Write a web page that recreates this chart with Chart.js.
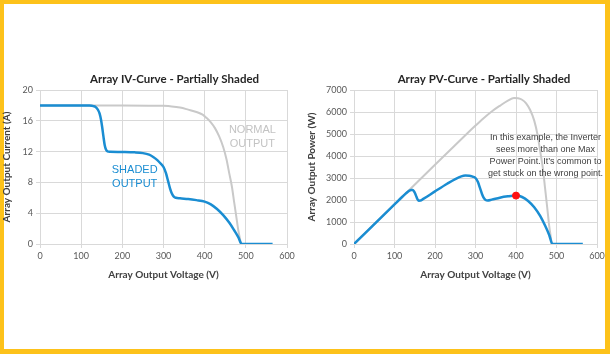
<!DOCTYPE html>
<html><head><meta charset="utf-8">
<script src="https://cdn.jsdelivr.net/npm/chart.js@4"></script>
<style>
html,body{margin:0;padding:0;}
body{width:610px;height:354px;background:#FDC21A;position:relative;overflow:hidden;}
#inner{position:absolute;left:4px;top:4px;width:601px;height:345px;background:#ffffff;}
canvas{position:absolute;top:0;}
</style></head><body>
<div id="inner"></div>
<canvas id="iv" width="305" height="354" style="left:0"></canvas>
<canvas id="pv" width="305" height="354" style="left:305px"></canvas>
<script>
// ---- data ----
const voltageNormal = [0, 100, 200, 280, 300, 320, 340, 360, 380, 395, 405, 415, 425, 435, 445, 453, 460, 466, 472, 477, 482, 486, 488];
const currentNormal = [18, 18, 18, 17.97, 17.94, 17.87, 17.72, 17.45, 17.15, 16.8, 16.35, 15.8, 15.05, 14.0, 12.6, 11.0, 9.1, 7.5, 5.3, 3.5, 1.7, 0.6, 0];
const powerNormal   = [0, 1800, 3600, 5032, 5382, 5718, 6025, 6282, 6517, 6636, 6622, 6557, 6396, 6090, 5607, 4983, 4186, 3495, 2502, 1670, 819, 292, 0];

const voltageShaded = [0, 100, 120, 130, 136, 141, 145, 148, 151, 154, 157, 160, 164, 170, 200, 230, 250, 265, 275, 285, 293, 300, 306, 311, 316, 320, 325, 330, 340, 360, 380, 400, 415, 430, 445, 460, 472, 482, 490, 565];
const currentShaded = [18, 18, 17.98, 17.9, 17.75, 17.4, 16.9, 16.2, 15.2, 14.0, 12.9, 12.3, 12.03, 11.98, 11.95, 11.9, 11.8, 11.6, 11.3, 10.9, 10.45, 10.0, 9.2, 8.2, 7.2, 6.6, 6.15, 6.0, 5.93, 5.85, 5.7, 5.5, 5.15, 4.55, 3.75, 2.75, 1.75, 0.85, 0, 0];
const powerShaded   = [0, 1800, 2158, 2327, 2414, 2453, 2451, 2398, 2295, 2156, 2025, 1968, 1973, 2037, 2390, 2737, 2950, 3074, 3108, 3107, 3062, 3000, 2815, 2550, 2275, 2112, 1999, 1980, 2016, 2106, 2166, 2200, 2137, 1957, 1669, 1265, 826, 410, 0, 0];

const stuckPointVoltage = [400];
const stuckPointPower = [2200];

const voltageTicks = [0, 100, 200, 300, 400, 500, 600];
const currentTicks = [0, 4, 8, 12, 16, 20];
const powerTicks = [0, 1000, 2000, 3000, 4000, 5000, 6000, 7000];

const ivTitle = 'Array IV-Curve - Partially Shaded';
const pvTitle = 'Array PV-Curve - Partially Shaded';
const xTitle = 'Array Output Voltage (V)';
const ivYTitle = 'Array Output Current (A)';
const pvYTitle = 'Array Output Power (W)';
const normalLabel = ['NORMAL', 'OUTPUT'];
const shadedLabel = ['SHADED', 'OUTPUT'];
const noteLines = ['In this example, the Inverter', 'sees more than one Max', 'Power Point. It\u2019s common to', 'get stuck on the wrong point.'];

// ---- styling ----
const FONT = 'Lato, "Open Sans", sans-serif';
const ARIAL = '"Liberation Sans", Arial, sans-serif';
const BLUE = '#1a8dd2';
const GRAY = '#c9c9c9';
const GRID = '#d9d9d9';

function pts(xs, ys) { return xs.map((x, i) => ({ x: x, y: ys[i] })); }

const overlayText = {
  id: 'overlayText',
  afterDatasetsDraw(chart, args, opts) {
    const ctx = chart.ctx;
    ctx.save();
    ctx.textAlign = 'center';
    ctx.textBaseline = 'middle';
    (opts.items || []).forEach(it => {
      ctx.font = it.font;
      ctx.fillStyle = it.color;
      const cx = chart.scales.x.getPixelForValue(it.x);
      it.lines.forEach((ln, i) => {
        const cy = chart.scales.y.getPixelForValue(it.y) + i * it.lineHeight;
        ctx.fillText(ln, cx, cy);
      });
    });
    if (opts.title) {
      ctx.font = opts.title.font;
      ctx.fillStyle = opts.title.color;
      ctx.fillText(opts.title.text, opts.title.cx, opts.title.cy);
    }
    ctx.restore();
  }
};

function options(cfg) {
  return {
    responsive: false,
    animation: false,
    layout: { padding: { left: 0, right: cfg.padRight, top: 90, bottom: 70 } },
    plugins: {
      legend: { display: false },
      tooltip: { enabled: false },
      title: { display: false },
      overlayText: { items: cfg.items, title: cfg.title }
    },
    elements: { point: { radius: 0 } },
    scales: {
      x: {
        type: 'linear', min: 0, max: 600,
        afterBuildTicks(s) { s.ticks = voltageTicks.map(v => ({ value: v })); },
        ticks: { color: '#595959', font: { family: FONT, size: 9 }, padding: 3, maxRotation: 0, callback: v => String(v) },
        grid: { color: GRID, tickLength: 4 },
        border: { color: GRID },
        title: { display: true, text: xTitle, color: '#404040', font: { family: FONT, size: 10, weight: 'bold' }, padding: { top: 0, bottom: 3 } },
        afterFit(s) { s.height = 40; }
      },
      y: {
        type: 'linear', min: 0, max: cfg.yMax,
        afterBuildTicks(s) { s.ticks = cfg.yTicks.map(v => ({ value: v })); },
        ticks: { color: '#595959', font: { family: FONT, size: 9 }, padding: 3, callback: v => String(v) },
        grid: { color: GRID, tickLength: 4 },
        border: { color: GRID },
        title: { display: true, text: cfg.yTitle, color: '#404040', font: { family: FONT, size: 10, weight: 'bold' }, padding: { top: 1, bottom: 0 } },
        afterFit(s) { s.width = cfg.yWidth; }
      }
    }
  };
}

new Chart(document.getElementById('iv'), {
  type: 'line',
  data: {
    datasets: [
      { data: pts(voltageShaded, currentShaded), borderColor: BLUE, borderWidth: 2.5, cubicInterpolationMode: 'monotone', order: 1, fill: false },
      { data: pts(voltageNormal, currentNormal), borderColor: GRAY, borderWidth: 2, cubicInterpolationMode: 'monotone', order: 2, fill: false }
    ]
  },
  options: options({
    padRight: 18, yMax: 20, yTicks: currentTicks, yTitle: ivYTitle, yWidth: 40,
    title: { text: ivTitle, cx: 174.5, cy: 79, font: 'bold 11.5px ' + FONT, color: '#262626' },
    items: [
      { lines: normalLabel, x: 516, y: 14.8, lineHeight: 14, font: '11px ' + ARIAL, color: '#c3c3c3' },
      { lines: shadedLabel, x: 230, y: 9.6, lineHeight: 13.5, font: '11px ' + ARIAL, color: BLUE }
    ]
  }),
  plugins: [overlayText]
});

new Chart(document.getElementById('pv'), {
  type: 'line',
  data: {
    datasets: [
      { data: pts(stuckPointVoltage, stuckPointPower), showLine: false, pointRadius: 3.5, pointBackgroundColor: '#ff1010', pointBorderColor: '#ff1010', order: 0 },
      { data: pts(voltageShaded, powerShaded), borderColor: BLUE, borderWidth: 2.5, cubicInterpolationMode: 'monotone', order: 1, fill: false },
      { data: pts(voltageNormal, powerNormal), borderColor: GRAY, borderWidth: 2, cubicInterpolationMode: 'monotone', order: 2, fill: false }
    ]
  },
  options: options({
    padRight: 13, yMax: 7000, yTicks: powerTicks, yTitle: pvYTitle, yWidth: 49,
    title: { text: pvTitle, cx: 179, cy: 79, font: 'bold 11.5px ' + FONT, color: '#262626' },
    items: [
      { lines: noteLines, x: 473, y: 4818, lineHeight: 12, font: '9px ' + ARIAL, color: '#404040' }
    ]
  }),
  plugins: [overlayText]
});
</script></body></html>
